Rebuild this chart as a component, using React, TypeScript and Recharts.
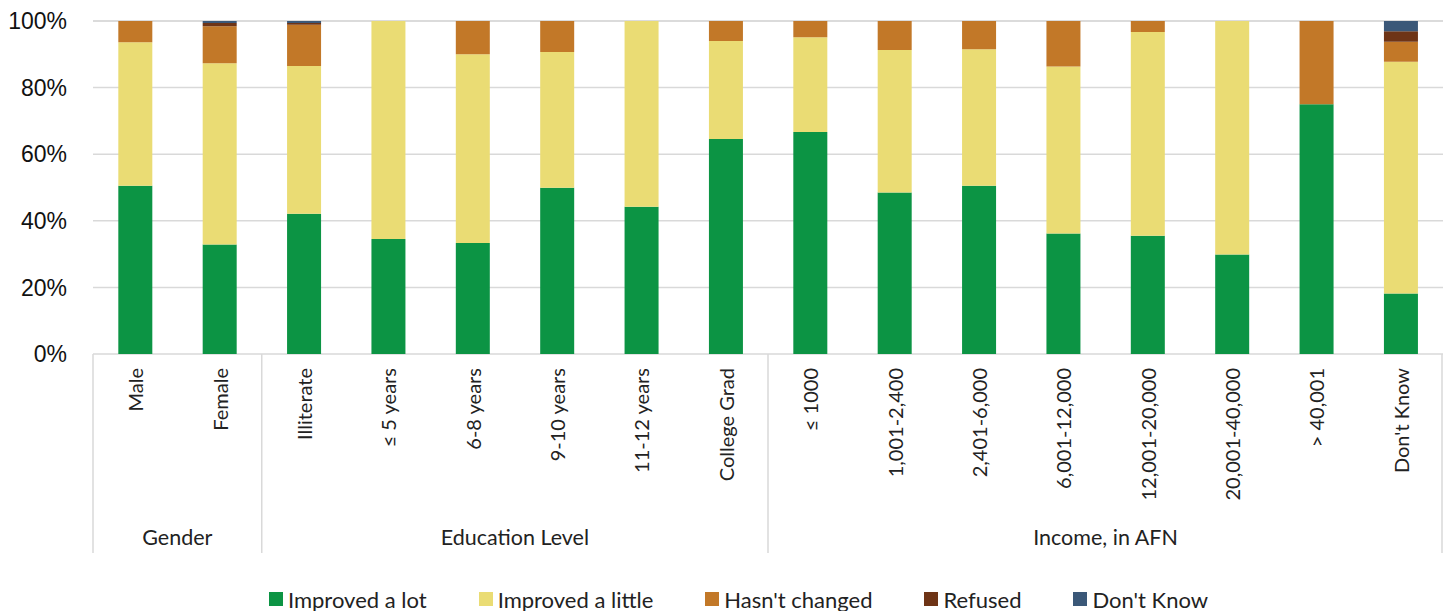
import { BarChart, Bar, XAxis, YAxis, CartesianGrid, Legend } from 'recharts';

const CATEGORIES = [
  'Male', 'Female',
  'Illiterate', '≤ 5 years', '6-8 years', '9-10 years', '11-12 years', 'College Grad',
  '≤ 1000', '1,001-2,400', '2,401-6,000', '6,001-12,000', '12,001-20,000', '20,001-40,000', '> 40,001', "Don't Know",
];
const GROUPS = ['Gender', 'Education Level', 'Income, in AFN'];
const GROUP_SIZES = [2, 6, 8];

const IMPROVED_LOT = [50.5, 32.9, 42.1, 34.5, 33.3, 49.9, 44.2, 64.6, 66.7, 48.5, 50.5, 36.2, 35.5, 29.9, 75.0, 18.2];
const IMPROVED_LITTLE = [43.1, 54.4, 44.4, 65.5, 56.7, 40.8, 55.8, 29.4, 28.4, 42.8, 41.0, 50.1, 61.2, 70.1, 0, 69.6];
const HASNT_CHANGED = [6.4, 11.1, 12.4, 0, 10.0, 9.3, 0, 6.0, 4.9, 8.7, 8.5, 13.7, 3.3, 0, 25.0, 6.0];
const REFUSED = [0, 1.0, 0.5, 0, 0, 0, 0, 0, 0, 0, 0, 0, 0, 0, 0, 3.1];
const DONT_KNOW = [0, 0.6, 0.6, 0, 0, 0, 0, 0, 0, 0, 0, 0, 0, 0, 0, 3.1];
const Y_TICKS = [0, 20, 40, 60, 80, 100];

const SERIES = [
  { key: 'lot', name: 'Improved a lot', color: '#0C9444' },
  { key: 'little', name: 'Improved a little', color: '#EADC74' },
  { key: 'hasnt', name: "Hasn't changed", color: '#C27828' },
  { key: 'refused', name: 'Refused', color: '#6E3416' },
  { key: 'dk', name: "Don't Know", color: '#3B5878' },
];

const data = CATEGORIES.map((name, i) => ({
  name,
  lot: IMPROVED_LOT[i],
  little: IMPROVED_LITTLE[i],
  hasnt: HASNT_CHANGED[i],
  refused: REFUSED[i],
  dk: DONT_KNOW[i],
}));

const WIDTH = 1443;
const HEIGHT = 611;
const Y_AXIS_WIDTH = 93;
const STEP = (WIDTH - Y_AXIS_WIDTH) / CATEGORIES.length;
const TICK_MARGIN = 14;
const FONT = 'Lato, "Noto Sans", sans-serif';

// index of first category in each group
const groupStarts = GROUP_SIZES.map((_, g) => GROUP_SIZES.slice(0, g).reduce((a, b) => a + b, 0));

const CategoryTick = (props: any) => {
  const { x, y, payload } = props;
  const idx = CATEGORIES.indexOf(payload.value);
  const axisY = y - TICK_MARGIN;
  const g = groupStarts.indexOf(idx);
  const isLast = idx === CATEGORIES.length - 1;
  return (
    <g>
      <text
        x={x}
        y={y}
        transform={`rotate(-90 ${x} ${y})`}
        textAnchor="end"
        dominantBaseline="central"
        fontSize={20}
        fontFamily={FONT}
        fill="#222"
      >
        {payload.value}
      </text>
      {g >= 0 && (
        <>
          <line x1={x - STEP / 2} x2={x - STEP / 2} y1={axisY} y2={axisY + 199} stroke="#D9D9D9" strokeWidth={1.5} />
          <text
            x={x + ((GROUP_SIZES[g] - 1) * STEP) / 2}
            y={axisY + 183}
            textAnchor="middle"
            dominantBaseline="central"
            fontSize={21.5}
            fontFamily={FONT}
            fill="#222"
          >
            {GROUPS[g]}
          </text>
        </>
      )}
      {isLast && (
        <line x1={x + STEP / 2 - 1} x2={x + STEP / 2 - 1} y1={axisY} y2={axisY + 199} stroke="#D9D9D9" strokeWidth={1.5} />
      )}
    </g>
  );
};

const LegendContent = () => (
  <div
    style={{
      height: 57,
      boxSizing: 'border-box',
      paddingTop: 33,
      paddingLeft: 34,
      display: 'flex',
      justifyContent: 'center',
      alignItems: 'center',
      fontFamily: FONT,
      fontSize: 22,
      color: '#222',
    }}
  >
    {SERIES.map((s) => (
      <div key={s.key} style={{ display: 'flex', alignItems: 'center', margin: '0 26px', height: 24 }}>
        <span style={{ width: 14, height: 14, background: s.color, marginRight: 5, display: 'inline-block' }} />
        <span>{s.name}</span>
      </div>
    ))}
  </div>
);

export default function App() {
  return (
    <div style={{ position: 'absolute', left: 0, top: 0, width: WIDTH, height: HEIGHT, background: '#fff' }}>
      <BarChart
        width={WIDTH}
        height={HEIGHT}
        data={data}
        margin={{ top: 21, right: 0, bottom: 0, left: 0 }}
        barCategoryGap="30%"
      >
        <CartesianGrid vertical={false} stroke="#D9D9D9" strokeWidth={1.5} />
        <XAxis
          dataKey="name"
          interval={0}
          height={200}
          tickLine={false}
          axisLine={false}
          tickSize={0}
          tickMargin={TICK_MARGIN}
          tick={<CategoryTick />}
        />
        <YAxis
          width={Y_AXIS_WIDTH}
          domain={[0, 100]}
          ticks={Y_TICKS}
          tickFormatter={(v: number) => `${v}%`}
          axisLine={false}
          tickLine={false}
          tickSize={0}
          tickMargin={26}
          tick={{ fontSize: 23, fontFamily: '"Liberation Sans", Arial, sans-serif', fill: '#111' }}
        />
        <Legend verticalAlign="bottom" content={<LegendContent />} />
        {SERIES.map((s) => (
          <Bar key={s.key} dataKey={s.key} name={s.name} stackId="a" fill={s.color} isAnimationActive={false} />
        ))}
      </BarChart>
    </div>
  );
}
